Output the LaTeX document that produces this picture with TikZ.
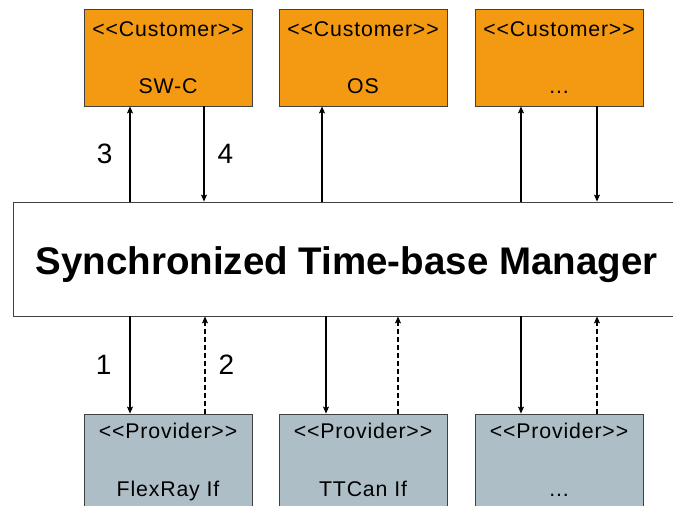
\documentclass[tikz,border=0pt]{standalone}
\usepackage{fontspec}
\usepackage{xcolor}
\usepackage{tikz}
\usetikzlibrary{arrows.meta}
\newfontfamily\boxfont{Liberation Sans}[LetterSpace=4]
\newfontfamily\numfont{Liberation Sans}
\newfontfamily\titlefont{Liberation Sans}[BoldFont={Liberation Sans Bold}]
\definecolor{custorange}{HTML}{F49A12}
\definecolor{provgrey}{HTML}{AEBEC6}
\definecolor{boxline}{HTML}{404040}

\begin{document}
\begin{tikzpicture}[x=1pt, y=-1pt,
    box/.style={draw=boxline, line width=0.8pt, minimum width=168pt, minimum height=97pt, inner sep=0pt},
    custbox/.style={box, fill=custorange},
    provbox/.style={box, fill=provgrey},
    boxtext/.style={anchor=base, inner sep=0pt, font=\boxfont\fontsize{21.3}{24}\selectfont},
    num/.style={inner sep=0pt, font=\numfont\fontsize{28}{32}\selectfont},
    flow/.style={line width=1.1pt, -{Stealth[length=7pt, width=6pt, inset=1.5pt]}},
    back/.style={flow, dash pattern=on 5pt off 3pt}]
  \useasboundingbox (0,0) rectangle (673,506);

  \node[custbox] (swc) at (168,57.5) {};
  \node[custbox] (os) at (363,57.5) {};
  \node[custbox] (cmore) at (559,57.5) {};
  \node[provbox] (flexray) at (168,462.5) {};
  \node[provbox] (ttcan) at (363,462.5) {};
  \node[provbox] (pmore) at (559,462.5) {};
  \node[draw=boxline, line width=0.8pt, minimum width=667pt, minimum height=114pt,
    text height=30pt, text depth=0pt, inner sep=0pt,
    font=\titlefont\bfseries\fontsize{38.5}{44}\selectfont] (mgr) at (346.5,259) {Synchronized Time-base Manager};

  \node[boxtext] at ([yshift=-28pt]swc.north) {<<Customer>>};
  \node[boxtext] at ([yshift=-85pt]swc.north) {SW-C};
  \node[boxtext] at ([yshift=-28pt]os.north) {<<Customer>>};
  \node[boxtext] at ([yshift=-85pt]os.north) {OS};
  \node[boxtext] at ([yshift=-28pt]cmore.north) {<<Customer>>};
  \node[boxtext] at ([yshift=-85pt]cmore.north) {...};
  \node[boxtext] at ([yshift=-25pt]flexray.north) {<<Provider>>};
  \node[boxtext] at ([yshift=-83pt]flexray.north) {FlexRay If};
  \node[boxtext] at ([yshift=-25pt]ttcan.north) {<<Provider>>};
  \node[boxtext] at ([yshift=-83pt]ttcan.north) {TTCan If};
  \node[boxtext] at ([yshift=-25pt]pmore.north) {<<Provider>>};
  \node[boxtext] at ([yshift=-83pt]pmore.north) {...};

  \path ([xshift=-38pt]swc.south) coordinate (swc-in)
        ([xshift=36pt]swc.south) coordinate (swc-out)
        ([xshift=-41pt]os.south) coordinate (os-in)
        ([xshift=-38pt]cmore.south) coordinate (cmore-in)
        ([xshift=38pt]cmore.south) coordinate (cmore-out);
  \draw[flow] (swc-in |- mgr.north) -- (swc-in) node[midway, left=17pt, num] {3};
  \draw[flow] (swc-out) -- (swc-out |- mgr.north) node[midway, right=13pt, num] {4};
  \draw[flow] (os-in |- mgr.north) -- (os-in);
  \draw[flow] (cmore-in |- mgr.north) -- (cmore-in);
  \draw[flow] (cmore-out) -- (cmore-out |- mgr.north);

  \path ([xshift=-38pt]flexray.north) coordinate (flexray-in)
        ([xshift=37pt]flexray.north) coordinate (flexray-out)
        ([xshift=-37pt]ttcan.north) coordinate (ttcan-in)
        ([xshift=35pt]ttcan.north) coordinate (ttcan-out)
        ([xshift=-38pt]pmore.north) coordinate (pmore-in)
        ([xshift=38pt]pmore.north) coordinate (pmore-out);
  \draw[flow] (flexray-in |- mgr.south) -- (flexray-in) node[midway, left=18pt, num] {1};
  \draw[back] (flexray-out) -- (flexray-out |- mgr.south) node[midway, right=13pt, num] {2};
  \draw[flow] (ttcan-in |- mgr.south) -- (ttcan-in);
  \draw[back] (ttcan-out) -- (ttcan-out |- mgr.south);
  \draw[flow] (pmore-in |- mgr.south) -- (pmore-in);
  \draw[back] (pmore-out) -- (pmore-out |- mgr.south);
\end{tikzpicture}
\end{document}
